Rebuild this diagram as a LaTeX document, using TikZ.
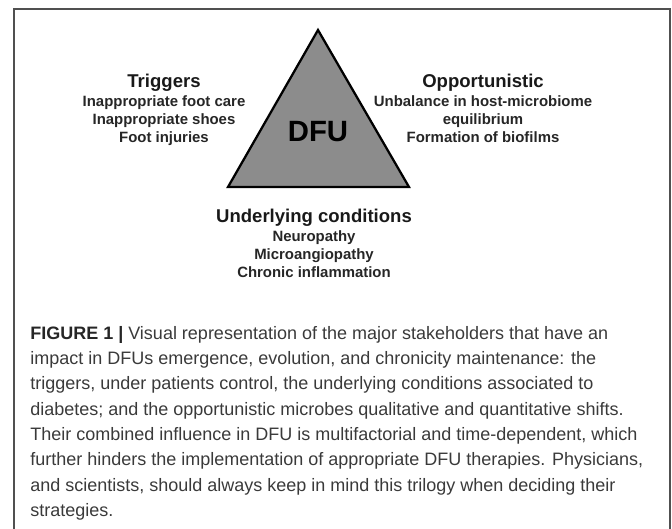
\documentclass[tikz,border=0pt]{standalone}
\usepackage{fontspec}
\setmainfont{Liberation Sans}
\usepackage{tikz}
\definecolor{dfugray}{RGB}{140,140,140}
\definecolor{framegray}{RGB}{80,80,80}
\definecolor{captext}{RGB}{58,58,58}

\begin{document}
\begin{tikzpicture}[x=0.75pt, y=-0.75pt,
  head/.style={font=\fontsize{13.9}{16}\selectfont\bfseries, anchor=base, inner sep=0pt, text=black!90},
  items/.style={font=\fontsize{11.2}{13.5}\selectfont\bfseries, align=center, anchor=base, inner sep=0pt, text=black!85}]
  \useasboundingbox (0, 0) rectangle (672, 529);
  \draw[color=framegray, line width=1.1pt] (14, 529) -- (14, 9) -- (670, 9) -- (670, 529);
  \draw[fill=dfugray, line width=1.7pt] (318, 30) -- (409, 187) -- (228, 187) -- cycle;
  \node[font=\fontsize{22}{24}\selectfont\bfseries, inner sep=0pt] (dfu) at (318, 132) {DFU};
  % base of a node with several lines is its last line
  \node[head] (trig) at (164, 87.5) {Triggers};
  \node[items] (trigitems) at (164, 142) {Inappropriate foot care\\Inappropriate shoes\\Foot injuries};
  \node[head] (opport) at (483, 87.5) {Opportunistic};
  \node[items] (opportitems) at (483, 142) {Unbalance in host-microbiome\\equilibrium\\Formation of biofilms};
  \node[head] (under) at (314, 222.5) {Underlying conditions};
  \node[items] (underitems) at (314, 277) {Neuropathy\\Microangiopathy\\Chronic inflammation};
  \node[anchor=base west, align=left, inner sep=0pt, text=captext, font=\fontsize{13.5}{19}\selectfont] (caption) at (30, 516.5)
    {{\bfseries\color{black!85}FIGURE 1 |} Visual representation of the major stakeholders that have an\\
     impact in DFUs emergence, evolution, and chronicity maintenance: the\\
     triggers, under patients control, the underlying conditions associated to\\
     diabetes; and the opportunistic microbes qualitative and quantitative shifts.\\
     Their combined influence in DFU is multifactorial and time-dependent, which\\
     further hinders the implementation of appropriate DFU therapies. Physicians,\\
     and scientists, should always keep in mind this trilogy when deciding their\\
     strategies.};
\end{tikzpicture}
\end{document}
